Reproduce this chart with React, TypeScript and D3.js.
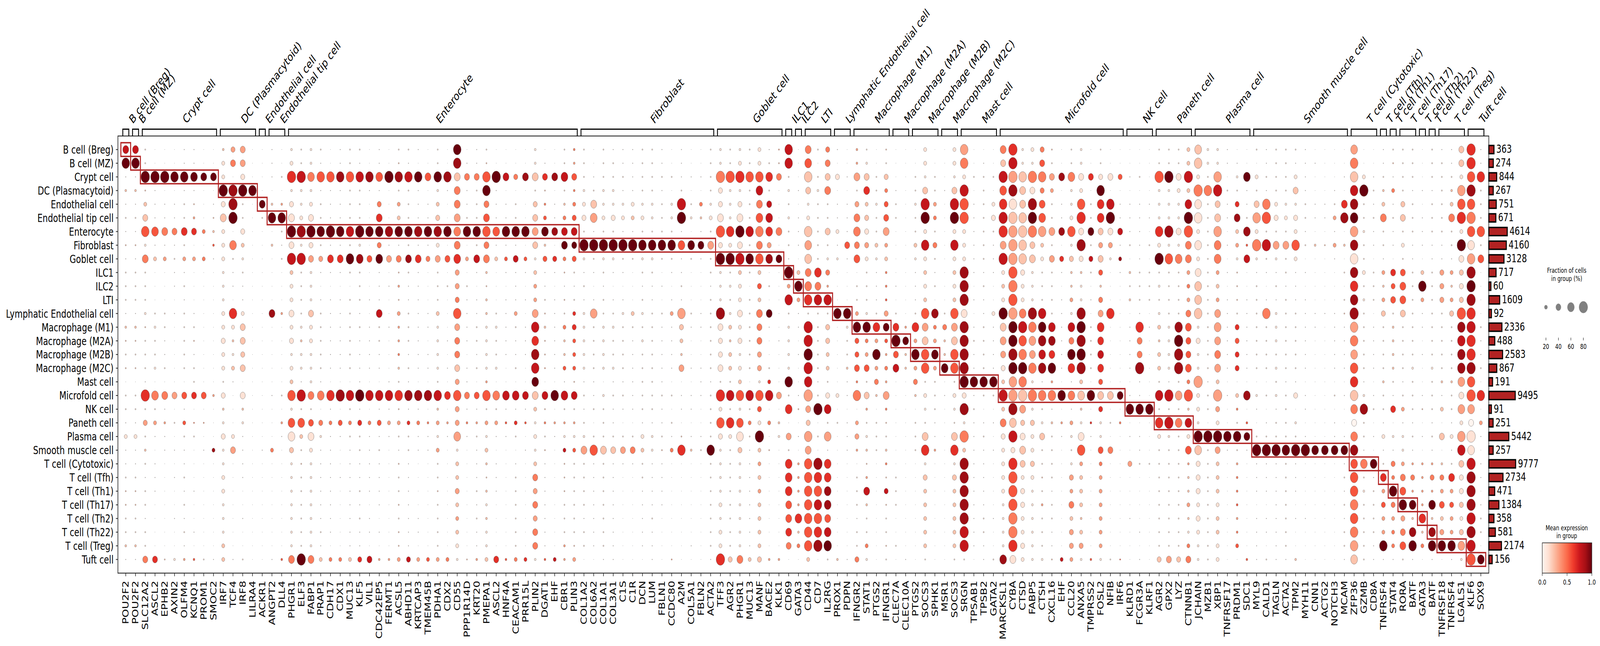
import React from "react";
import * as d3 from "d3";

// Rows, top to bottom, with their cell counts
const cellTypes = ["B cell (Breg)","B cell (MZ)","Crypt cell","DC (Plasmacytoid)","Endothelial cell","Endothelial tip cell","Enterocyte","Fibroblast","Goblet cell","ILC1","ILC2","LTI","Lymphatic Endothelial cell","Macrophage (M1)","Macrophage (M2A)","Macrophage (M2B)","Macrophage (M2C)","Mast cell","Microfold cell","NK cell","Paneth cell","Plasma cell","Smooth muscle cell","T cell (Cytotoxic)","T cell (Tfh)","T cell (Th1)","T cell (Th17)","T cell (Th2)","T cell (Th22)","T cell (Treg)","Tuft cell"];
const cellCounts = [363,274,844,267,751,671,4614,4160,3128,717,60,1609,92,2336,488,2583,867,191,9495,91,251,5442,257,9777,2734,471,1384,358,581,2174,156];
const groupSizes = [1,1,8,4,1,2,30,14,7,1,1,3,2,4,2,3,2,4,13,3,4,6,10,3,1,1,2,1,1,3,2];

const genes = ["POU2F2","POU2F2","SLC12A2","ASCL2","EPHB2","AXIN2","OLFM4","KCNQ1","PROM1","SMOC2","IRF7","TCF4","IRF8","LILRA4","ACKR1","ANGPT2","DLL4","PHGR1","ELF3","FABP1","PRAP1","CDH17","CDX1","MUC13","KLF5","VIL1","CDC42EP5","FERMT1","ACSL5","ABHD11","KRTCAP3","TMEM45B","PDHA1","CDX2","CD55","PPP1R14D","KRT20","PMEPA1","ASCL2","HNF4A","CEACAM1","PRR15L","PLIN2","DGAT1","EHF","CBR1","PLIN3","COL1A2","COL6A2","COL1A1","COL3A1","C1S","C1R","DCN","LUM","FBLN1","CCDC80","A2M","COL5A1","FBLN2","ACTA2","TFF3","AGR2","PHGR1","MUC13","MANF","BACE2","KLK1","CD69","GATA3","CD44","CD7","IL2RG","PROX1","PDPN","IFNGR2","STAT1","PTGS2","IFNGR1","CLEC7A","CLEC10A","PTGS2","SOCS3","SPHK1","MSR1","SOCS3","SRGN","TPSAB1","TPSB2","GATA2","MARCKSL1","CYBA","CTSD","FABP5","CTSH","CXCL16","EHF","CCL20","ANXA5","TMPRSS2","FOSL2","NFIB","IRF6","KLRD1","FCGR3A","KLRF1","AGR2","GPX2","LYZ","CTNNB1","JCHAIN","MZB1","XBP1","TNFRSF17","PRDM1","SDC1","MYL9","CALD1","TAGLN","ACTA2","TPM2","MYH11","CNN1","ACTG2","NOTCH3","MCAM","ZFP36","GZMB","CD8A","TNFRSF4","STAT4","RORA","BATF","GATA3","BATF","TNFRSF18","TNFRSF4","LGALS1","KLF6","SOX9"];

// Each gene: 31 cells, one per row; first character is a fraction level, second an expression level.
const fractionLevels = [0.5,2,5,10,20,30,40,50,60,70,80]; // percent of cells; "a" is the last one
const POU2F2 = "77 99 11 32 11,21 11 22 11 21,21 21 11 32 22,21 22 01 21 21,11 41 11 11 21,22 22 21 21 32,11";
const ASCL2 = "01 01 a9 11 11,11 85 11 42 01,00 01 21 31 21,21 31 01 84 21,43 11 01 11 11,11 01 01 01 01,66";
const PHGR1 = "31 41 a6 31 51,71 a9 61 a7 42,41 41 61 41 51,31 41 42 95 31,85 81 52 31 31,31 31 31 31 31,74";
const MUC13 = "21 21 95 21 21,21 97 21 99 21,00 21 21 21 21,21 21 01 97 21,44 21 11 11 11,11 11 11 11 11,42";
const EHF = "00 00 78 00 11,11 78 01 56 11,00 11 11 11 11,11 11 01 99 00,33 11 01 01 00,00 00 00 00 00,47";
const ACTA2 = "21 21 21 21 31,41 21 73 21 21,11 21 21 21 21,21 21 11 21 21,21 21 99 21 21,21 21 21 21 21,11";
const AGR2 = "21 21 a5 31 31,31 96 41 a9 21,31 21 31 42 32,42 42 21 97 21,96 41 21 21 21,21 21 21 21 21,52";
const GATA3 = "01 00 01 11 01,11 11 11 01 42,99 43 11 11 01,11 01 00 11 22,00 11 00 33 33,33 33 86 32 44,01";
const PTGS2 = "00 00 21 21 31,21 21 42 31 11,11 11 21 86 43,99 43 54 32 00,21 21 21 01 01,00 00 00 00 00,00";
const SOCS3 = "41 41 31 62 a7,a9 41 97 41 42,41 42 95 73 72,95 95 21 41 31,21 72 96 31 52,42 42 42 42 42,21";
const TNFRSF4 = "11 11 21 32 42,74 21 21 11 43,32 43 52 21 21,21 21 32 21 21,11 41 11 21 76,43 55 43 43 99,11";
const BATF = "21 21 21 11 21,21 21 11 11 21,21 21 21 21 21,21 31 21 21 21,11 21 11 33 54,33 89 32 88 99,11";

const markersBcell = [POU2F2, POU2F2];
const markersCrypt = [
  "21 21 a9 22 42,62 95 31 74 21,21 21 31 22 21,21 21 11 a6 21,53 21 32 21 11,21 21 11 21 21,64",
  ASCL2,
  "00 00 a9 01 11,11 74 11 43 01,00 01 21 21 11,11 21 01 74 11,33 11 11 01 01,01 01 01 00 01,22",
  "00 00 99 01 11,11 64 11 21 11,11 01 11 01 01,01 01 00 63 00,21 01 11 01 11,01 01 11 01 01,31",
  "11 11 99 11 21,21 76 21 43 11,21 11 21 21 21,21 21 01 65 11,45 21 11 11 21,11 21 11 21 11,33",
  "11 11 89 11 22,33 66 01 43 01,00 01 11 21 22,11 21 21 66 00,24 21 01 01 01,11 01 01 11 01,35",
  "01 00 79 01 01,01 44 01 44 01,00 01 01 01 01,01 01 01 65 00,23 01 11 00 00,00 00 01 00 00,21",
  "00 00 79 00 11,22 32 35 11 00,00 00 01 00 00,00 00 00 33 01,01 01 48 00 00,00 00 01 00 00,11",
];
const markersDC = [
  "32 41 41 a9 51,72 41 41 41 31,31 31 41 41 51,41 41 21 51 32,31 51 31 31 41,41 31 31 31 42,42",
  "53 64 01 a8 a8,a9 01 84 21 11,11 01 96 41 32,31 42 11 01 00,01 41 63 01 01,00 01 01 00 01,11",
  "63 63 51 a9 21,21 51 42 31 21,11 11 41 62 62,52 62 01 61 32,31 11 11 11 11,01 01 11 01 01,21",
  "01 01 01 99 00,00 00 00 00 00,00 00 00 01 01,01 00 00 00 00,00 00 00 00 00,00 00 00 00 00,00",
];
const markersEndothelial = [
  "00 00 00 00 79,21 00 01 00 00,00 00 00 00 00,00 00 00 00 00,00 01 11 00 00,00 00 00 00 00,00",
];
const markersEndothelialTip = [
  "11 11 11 01 32,99 01 32 01 01,01 01 78 01 01,00 01 01 11 00,00 01 44 01 01,01 00 01 01 01,11",
  "00 00 21 00 33,99 21 11 21 00,00 00 33 00 00,00 00 00 21 00,33 11 00 00 00,00 00 00 00 00,35",
];
const markersEnterocyte = [
  PHGR1,
  "21 21 a7 31 31,41 a8 31 a7 21,21 21 21 31 32,31 31 11 a7 21,85 42 21 22 21,21 21 21 21 21,a9",
  "31 31 84 31 41,61 a9 51 63 31,31 31 62 41 41,31 31 31 74 21,65 71 41 31 31,31 31 31 31 31,74",
  "21 11 95 11 21,21 99 21 53 11,00 11 21 21 21,21 21 11 84 00,54 31 11 11 11,11 11 11 21 11,42",
  "01 01 95 11 11,11 a9 11 76 11,00 11 11 11 11,11 11 01 96 11,44 11 11 11 11,11 11 11 11 01,44",
  "11 11 98 11 11,11 99 11 76 11,00 11 11 11 11,11 11 00 a8 00,55 11 01 01 11,01 01 01 01 01,44",
  MUC13,
  "21 11 97 21 21,21 a9 31 88 21,21 21 11 21 11,11 11 11 a9 11,56 21 21 11 11,21 11 21 11 11,56",
  "01 01 98 11 01,01 99 01 65 01,00 11 01 11 11,11 11 00 97 00,44 11 11 11 11,11 01 11 11 00,67",
  "11 11 85 11 54,76 99 54 89 11,11 11 77 21 21,11 11 00 97 11,55 11 21 11 11,11 11 01 11 01,33",
  "01 01 a9 00 01,01 98 11 63 00,11 01 01 11 01,01 01 11 97 11,43 11 01 01 01,01 01 00 00 01,33",
  "21 22 98 21 43,42 99 11 64 22,33 22 43 33 33,34 32 21 96 22,43 21 11 22 21,21 22 21 22 22,43",
  "21 11 97 21 21,21 99 21 78 21,11 11 21 21 21,11 21 11 98 11,46 21 21 11 11,11 11 11 11 11,57",
  "11 01 99 11 11,11 98 11 76 11,11 11 11 11 11,11 11 01 98 11,44 11 11 01 01,01 01 11 11 01,43",
  "00 00 75 01 11,11 99 11 54 01,00 01 11 11 01,11 11 00 98 00,34 11 11 00 00,01 00 01 00 00,45",
  "21 21 99 31 42,52 98 41 63 21,21 21 42 31 31,31 31 21 97 32,43 31 43 21 21,22 21 21 21 21,43",
  "01 00 98 11 01,01 99 01 65 00,21 01 01 01 11,01 11 00 76 00,33 11 01 00 00,00 00 00 00 00,44",
  "99 98 72 74 74,73 84 74 86 53,53 54 95 63 64,64 62 53 95 53,53 83 31 42 42,53 42 43 42 41,31",
  "00 11 64 11 11,21 99 00 43 01,21 11 11 11 11,01 11 11 64 11,34 11 00 01 01,00 00 00 00 00,22",
  "11 11 64 21 21,21 99 21 77 11,00 11 11 21 21,11 21 01 65 11,33 21 11 11 11,21 11 21 11 11,33",
  "21 22 95 99 64,75 95 64 74 32,22 32 32 31 31,31 31 33 95 21,43 31 42 32 22,32 31 32 31 31,42",
  ASCL2,
  "00 00 77 01 11,11 99 11 45 11,00 11 11 11 11,11 01 01 87 11,35 11 00 01 01,01 00 01 00 00,35",
  "01 01 54 01 21,21 99 11 67 11,11 11 43 21 11,11 21 01 87 11,46 21 00 11 21,21 21 21 21 21,44",
  "01 00 78 00 01,01 99 01 45 11,00 11 01 11 11,11 01 00 77 11,35 00 11 00 00,00 00 00 00 00,46",
  "31 31 72 21 52,62 73 62 31 42,43 43 73 97 86,98 97 89 72 42,31 41 31 42 64,53 64 53 64 64,31",
  "01 11 66 22 34,45 89 32 55 11,11 21 22 32 22,22 23 01 77 22,34 21 22 11 11,11 11 11 11 11,35",
  EHF,
  "21 21 87 21 32,44 77 79 44 22,11 22 21 44 32,32 45 11 87 21,33 31 47 22 22,22 21 21 21 33,33",
  "34 33 65 34 44,55 77 69 55 21,11 21 46 56 45,45 45 22 77 21,33 31 45 21 21,21 21 21 21 22,43",
];
const markersFibroblast = [
  "21 21 21 31 41,51 21 a9 31 11,21 11 31 31 31,31 31 11 21 11,21 31 73 21 21,21 21 11 21 21,01",
  "01 01 11 21 72,83 11 a9 21 11,00 11 83 21 21,21 21 11 11 21,01 21 95 11 11,11 11 11 11 11,00",
  "21 21 21 31 31,41 21 a9 31 21,11 21 21 31 31,31 31 01 31 21,21 21 72 21 21,21 21 21 21 21,11",
  "11 21 21 31 31,51 21 a9 31 11,00 11 21 31 21,21 31 11 21 11,11 21 62 11 11,11 11 11 11 11,11",
  "11 11 21 11 31,41 11 a9 21 11,00 11 31 21 21,21 21 11 21 11,01 21 63 11 01,01 01 01 01 01,00",
  "11 11 11 11 41,42 11 a9 21 01,00 01 42 21 11,11 11 11 11 11,01 21 64 11 01,01 01 01 01 01,00",
  "21 21 21 21 31,41 21 99 31 21,11 21 31 21 31,21 21 21 21 21,11 41 42 21 21,11 11 11 11 11,00",
  "21 21 21 21 31,31 21 99 31 21,11 11 21 21 21,21 21 21 21 21,11 31 31 11 11,11 11 21 11 11,11",
  "11 11 21 11 21,21 21 99 21 01,11 01 21 11 11,11 11 11 21 11,11 21 22 11 11,11 11 01 01 01,00",
  "01 00 21 01 31,31 21 99 21 11,00 11 43 11 11,11 11 00 21 00,21 11 44 01 01,00 01 01 01 00,23",
  "11 11 11 21 a7,a9 11 85 11 11,21 11 93 52 42,32 63 01 11 11,01 22 96 01 01,01 00 01 01 00,01",
  "00 00 11 00 21,31 00 89 21 01,00 00 21 11 00,00 11 00 11 11,01 11 32 00 00,00 00 00 00 11,00",
  "01 00 11 01 44,32 11 79 11 00,00 00 11 11 00,00 11 11 11 01,01 11 21 00 00,00 00 00 00 00,00",
  ACTA2,
];
const markersGoblet = [
  "31 31 a4 51 51,71 a5 51 a9 31,31 31 a8 61 51,51 61 21 a6 41,95 51 31 31 31,31 41 31 41 41,a6",
  AGR2,
  PHGR1,
  MUC13,
  "41 41 95 87 74,85 94 74 95 42,55 42 74 64 64,53 53 31 95 55,41 a9 42 43 42,43 42 42 42 42,52",
  "11 21 86 21 67,87 86 53 88 01,21 01 79 11 01,01 21 46 97 01,44 01 22 01 01,01 01 01 00 00,33",
  "23 22 64 01 01,01 74 01 79 00,00 01 01 01 11,01 01 00 63 00,32 31 01 01 00,00 00 00 00 00,33",
];
const markersILC1 = ["97 97 21 31 21,31 21 21 11 a9,43 97 21 31 31,31 31 99 21 86,01 63 21 86 86,86 75 75 76 64,01"];
const markersILC2 = [GATA3];
const markersLTI = [
  "74 85 92 62 31,41 92 83 82 74,84 96 21 a7 a7,a9 a7 97 a3 63,52 93 73 95 95,95 95 95 95 95,42",
  "21 01 21 31 21,21 21 21 21 86,74 97 21 21 21,21 21 11 21 a9,01 21 01 a8 96,95 97 95 96 a8,01",
  "54 64 62 74 21,21 62 21 31 54,33 97 21 52 52,42 42 21 51 87,21 83 11 86 86,88 88 75 87 99,21",
];
const markersLymphatic = [
  "11 01 51 01 11,11 41 11 31 00,00 00 99 01 00,00 00 01 41 00,21 00 01 00 00,00 00 00 00 00,32",
  "00 00 11 00 11,11 11 65 11 00,00 00 99 31 21,21 32 11 11 00,11 11 11 00 00,00 01 00 00 01,11",
];
const markersM1 = [
  "33 33 73 21 53,74 84 64 75 01,21 21 43 99 55,55 65 34 94 00,43 53 33 01 21,21 21 11 21 21,54",
  "21 31 62 76 42,52 51 53 41 21,21 21 31 99 44,43 65 21 62 33,21 31 32 22 33,77 32 21 21 44,31",
  PTGS2,
  "22 21 52 44 55,65 73 43 42 34,34 35 53 79 45,33 44 33 73 34,22 21 32 34 22,57 22 21 21 22,21",
];
const markersM2A = [
  "00 00 00 11 21,21 00 00 01 00,11 00 21 76 a9,65 77 00 01 00,00 00 00 00 21,21 21 00 00 21,00",
  "01 00 00 00 00,00 00 00 00 00,00 00 01 33 79,32 32 00 01 00,00 00 00 00 00,00 00 00 00 00,11",
];
const markersM2B = [
  PTGS2,
  SOCS3,
  "01 01 21 21 43,44 21 54 21 11,21 01 88 44 43,89 43 21 21 21,11 11 33 01 01,01 01 01 01 01,01",
];
const markersM2C = [
  "01 01 01 11 01,01 01 01 01 01,01 01 21 54 32,32 89 00 11 00,00 00 00 00 00,00 00 00 00 00,00",
  SOCS3,
];
const markersMast = [
  "93 94 41 a7 a5,a5 41 41 41 a8,a8 a8 71 a8 a8,a8 a8 a9 51 a8,31 a4 42 a8 a8,a8 a8 a8 a7 a7,21",
  "01 00 21 01 11,11 11 11 11 11,00 11 00 11 21,11 11 99 11 21,11 11 11 11 11,11 11 11 11 11,00",
  "01 11 21 21 21,21 21 21 21 11,21 11 11 21 21,21 21 99 21 00,11 21 11 11 11,11 11 21 21 11,11",
  "01 00 21 01 41,51 21 11 11 11,00 01 41 11 11,11 11 99 21 00,11 01 11 01 00,01 00 11 00 00,21",
];
const markersMicrofold = [
  "74 62 a7 85 96,a7 a6 73 a7 41,42 41 a9 72 73,63 51 42 a7 42,74 51 41 41 41,41 31 31 31 31,88",
  "a6 a7 a3 a8 91,a2 a3 a3 a3 a5,a4 a5 a3 a9 a9,a8 a9 93 a3 a8,82 a7 51 a6 a5,a5 a5 a4 a4 a6,71",
  "31 31 92 72 72,92 a2 92 92 51,41 41 84 a7 95,94 a9 94 a2 73,52 61 72 62 41,51 51 41 41 51,41",
  "41 31 a4 61 a8,a9 a4 62 72 31,31 31 a8 94 83,73 94 31 a4 31,52 41 41 52 41,31 31 31 31 31,31",
  "54 65 94 54 75,85 93 42 41 21,21 21 97 99 98,87 98 11 94 21,31 62 21 21 22,21 33 21 21 21,31",
  "22 21 63 43 21,21 73 21 63 21,21 21 21 87 88,76 99 33 94 11,32 21 21 21 21,11 21 21 11 11,22",
  EHF,
  "21 21 84 31 31,41 95 31 52 32,32 43 31 87 64,99 86 11 84 11,43 31 21 31 53,43 64 42 53 53,43",
  "31 31 61 41 95,a6 61 a8 51 32,31 31 a8 a9 a8,a9 a8 42 82 32,31 71 95 43 42,42 42 32 42 53,31",
  "01 01 66 01 21,21 79 21 57 21,00 11 01 21 21,21 21 01 99 00,36 11 01 01 01,01 01 01 01 01,35",
  "21 21 51 99 86,86 62 53 62 55,32 54 63 86 76,77 76 55 72 56,31 31 65 44 43,43 43 43 43 43,31",
  "00 00 61 00 97,a9 61 53 31 00,00 01 96 01 00,00 00 00 72 01,21 01 64 00 00,00 00 00 00 00,21",
  "01 01 55 01 11,11 67 11 48 11,00 01 00 01 01,01 01 00 79 00,34 01 00 01 00,00 00 01 00 00,25",
];
const markersNK = [
  "00 00 11 00 11,11 11 21 00 32,21 32 00 11 11,11 11 00 11 99,00 11 00 53 00,00 00 11 00 00,00",
  "00 00 21 00 11,11 11 11 11 21,21 21 11 96 64,64 a8 11 11 99,00 11 11 21 00,00 00 00 11 00,11",
  "00 00 00 00 11,11 01 21 00 21,21 21 00 11 00,00 00 00 00 99,00 00 00 21 00,00 00 00 00 00,00",
];
const markersPaneth = [
  AGR2,
  "21 21 a9 31 31,31 a8 31 95 21,21 21 21 31 31,31 31 11 a7 21,a7 31 21 21 21,21 21 21 21 21,63",
  "21 21 61 41 31,31 61 31 84 21,21 21 21 98 a9,a8 a8 21 83 21,84 21 21 21 21,21 21 21 21 21,52",
  "42 42 a7 42 87,a9 a5 74 74 43,44 43 64 75 65,65 75 44 a5 32,87 41 75 33 32,32 43 32 31 44,64",
];
const markersPlasma = [
  "82 92 41 a4 81,91 41 81 41 71,82 82 92 31 51,31 31 a3 41 41,31 a9 82 51 51,51 41 51 41 31,31",
  "31 31 21 94 21,21 21 21 21 21,21 21 21 21 21,21 21 11 21 21,01 a9 21 21 21,21 21 21 21 21,21",
  "31 31 93 a7 62,72 93 84 84 43,42 43 73 83 73,74 73 42 a3 53,41 a9 63 42 42,42 41 42 42 41,41",
  "11 11 01 21 11,11 01 11 00 11,00 11 11 11 11,11 11 00 11 00,00 99 11 01 01,01 01 01 01 00,00",
  "01 11 31 21 56,78 42 43 31 22,22 22 21 56 55,56 56 00 42 34,21 99 21 33 34,34 35 33 34 45,01",
  "01 01 89 11 11,21 88 35 77 00,00 11 11 11 11,11 11 00 88 00,35 79 11 00 00,00 01 00 01 00,35",
];
const markersSmooth = [
  "21 01 41 21 62,93 41 a4 31 11,21 21 21 21 21,21 21 00 31 11,00 21 a9 11 11,11 00 11 11 11,11",
  "11 11 21 11 94,a5 21 a7 21 11,00 11 94 21 21,21 21 00 21 00,11 21 a9 11 11,11 01 11 11 01,21",
  "21 21 21 21 41,51 21 73 31 11,21 11 31 31 31,21 31 21 31 11,21 21 a9 11 11,11 11 11 11 11,11",
  ACTA2,
  "21 11 41 62 31,51 41 95 41 11,11 11 21 21 21,21 21 11 51 00,31 21 a9 11 11,11 01 11 01 01,32",
  "11 11 11 11 21,21 11 21 01 11,00 11 11 11 11,11 11 01 11 11,00 11 a9 01 01,01 01 11 00 00,00",
  "00 11 01 00 11,11 01 32 01 00,00 00 11 11 01,01 01 01 01 00,00 01 89 00 00,00 00 00 00 00,00",
  "01 01 01 00 11,11 01 22 01 00,00 01 11 01 01,01 01 01 01 00,00 01 89 01 00,01 00 01 01 01,01",
  "00 00 01 11 21,43 11 43 11 00,00 00 11 11 11,11 11 00 21 00,11 11 89 00 00,00 00 00 00 00,00",
  "01 00 11 01 76,98 01 32 01 21,00 21 22 11 11,11 11 01 11 00,00 11 89 11 21,11 21 11 21 21,11",
];
const markersCytotoxic = [
  "83 94 92 97 98,99 93 98 91 98,96 98 a8 93 94,83 95 96 92 84,60 84 98 85 95,95 94 95 94 93,82",
  "01 01 41 a9 21,21 31 21 21 41,21 31 21 21 21,21 21 11 31 98,21 21 11 84 21,31 21 21 21 21,21",
  "01 01 11 21 11,21 11 11 01 21,21 21 01 11 11,11 11 01 11 21,01 11 01 89 11,21 21 21 21 11,11",
];
const markersTfh = [TNFRSF4];
const markersTh1 = ["21 22 11 44 11,21 11 11 01 66,55 65 21 32 32,32 32 21 11 66,01 31 11 54 44,99 54 43 44 44,11"];
const markersTh17 = [
  "21 21 21 21 52,62 21 41 21 65,75 75 62 21 21,21 21 11 21 43,11 31 31 43 64,75 99 53 64 75,21",
  BATF,
];
const markersTh2 = [GATA3];
const markersTh22 = [BATF];
const markersTreg = [
  "11 21 21 21 21,21 21 11 11 53,53 53 21 21 21,21 21 32 11 42,01 62 01 32 54,43 65 42 53 99,01",
  TNFRSF4,
  "62 62 41 93 95,a6 41 a9 61 52,51 52 a5 98 97,98 98 83 61 83,41 93 97 62 51,51 52 41 52 83,31",
];
const markersTuft = [
  "a6 a6 95 a8 95,a4 95 81 93 a8,a9 a8 a6 a7 a6,a6 a8 95 a5 83,60 a1 81 a7 a8,a8 a8 a7 a8 a7,a5",
  "11 11 96 21 21,21 95 21 75 01,00 01 00 21 11,11 21 00 96 00,43 11 01 11 11,01 11 21 21 01,89",
];

const allColumns = [
  ...markersBcell, ...markersCrypt, ...markersDC, ...markersEndothelial, ...markersEndothelialTip,
  ...markersEnterocyte, ...markersFibroblast, ...markersGoblet, ...markersILC1, ...markersILC2, ...markersLTI,
  ...markersLymphatic, ...markersM1, ...markersM2A, ...markersM2B, ...markersM2C, ...markersMast,
  ...markersMicrofold, ...markersNK, ...markersPaneth, ...markersPlasma, ...markersSmooth, ...markersCytotoxic,
  ...markersTfh, ...markersTh1, ...markersTh17, ...markersTh2, ...markersTh22, ...markersTreg, ...markersTuft,
];

const sizeLegendTicks = [20, 40, 60, 80];
const colorbarTicks = [0, 0.5, 1];
const redsStops = ["#fff5f0","#fee0d2","#fcbba1","#fc9272","#fb6a4a","#ef3b2c","#cb181d","#a50f15","#67000d"];

const FONT = "'DejaVu Sans'";
const firebrick = "#b22222";

type Cell = { gene: number; row: number; frac: number; expr: number };

function parseCells(): Cell[] {
  if (allColumns.length !== genes.length) throw new Error(`columns ${allColumns.length}`);
  const out: Cell[] = [];
  allColumns.forEach((col, gene) => {
    const tokens = col.split(/[ ,]/);
    if (tokens.length !== cellTypes.length) throw new Error(`gene ${gene} ${genes[gene]} has ${tokens.length} cells`);
    tokens.forEach((t, row) => {
      const lvl = parseInt(t[0], 16);
      out.push({ gene, row, frac: fractionLevels[lvl], expr: +t[1] / 9 });
    });
  });
  return out;
}

export default function App() {
  const cells = parseCells();
  const x = d3.scaleLinear().domain([0, genes.length - 1]).range([438.4, 5162.6]);
  const y = d3.scaleLinear().domain([0, cellTypes.length - 1]).range([382.7, 1431.6]);
  const diameter = d3.scalePow().exponent(0.75).domain([0, 80]).range([0, 30]);
  const color = d3.scaleLinear<string>()
    .domain(redsStops.map((_, i) => i / (redsStops.length - 1)))
    .range(redsStops);
  const barW = d3.scaleSqrt().domain([0, 9777]).range([0, 93.5]);

  const frame = { l: 411, t: 348, r: 5190.4, b: 1466.5 };
  const cbar = { l: 5376.7, r: 5549.5, t: 1389, b: 1466.5 };
  const cbarX = d3.scaleLinear().domain([0, 1]).range([cbar.l, cbar.r]);

  const starts = d3.cumsum([0, ...groupSizes]);
  const groups = groupSizes.map((n, i) => ({ name: cellTypes[i], first: starts[i], last: starts[i] + n - 1, row: i }));
  const sizeX = d3.scalePoint<number>().domain(sizeLegendTicks).range([5389.5, 5520]);

  return (
    <svg viewBox="0 0 5578 1653" preserveAspectRatio="none"
      style={{ position: "fixed", left: 0, top: 0, width: "100vw", height: "100vh", display: "block", background: "#fff" }} fontFamily={FONT}>
      <defs>
        <linearGradient id="redsGrad" x1="0" x2="1" y1="0" y2="0">
          {redsStops.map((c, i) => (
            <stop key={i} offset={i / (redsStops.length - 1)} stopColor={c} />
          ))}
        </linearGradient>
      </defs>

      {/* dots */}
      <g>
        {cells.map((d) => (
          <circle key={`${d.gene}-${d.row}`} cx={x(d.gene)} cy={y(d.row)} r={diameter(d.frac) / 2}
            fill={color(d.expr)} stroke="#5a5a5a" strokeWidth={0.7} />
        ))}
      </g>

      {/* highlight boxes */}
      <g fill="none" stroke={firebrick} strokeWidth={3.5}>
        {groups.map((g) => (
          <rect key={g.name} x={x(g.first) - 17} y={y(g.row) - 17.5} width={x(g.last) - x(g.first) + 34} height={35} />
        ))}
      </g>

      {/* frame */}
      <rect x={frame.l} y={frame.t} width={frame.r - frame.l} height={frame.b - frame.t} fill="none" stroke="#262626" strokeWidth={2.2} />

      {/* y axis */}
      <g fontSize={28.7} fill="#000">
        {cellTypes.map((t, i) => (
          <g key={t}>
            <line x1={frame.l - 7} x2={frame.l} y1={y(i)} y2={y(i)} stroke="#262626" strokeWidth={2} />
            <text x={frame.l - 15} y={y(i)} dy="0.36em" textAnchor="end">{t}</text>
          </g>
        ))}
      </g>

      {/* x axis */}
      <g fontSize={28} fill="#000">
        {genes.map((g, i) => (
          <g key={i}>
            <line x1={x(i)} x2={x(i)} y1={frame.b} y2={frame.b + 8} stroke="#262626" strokeWidth={2} />
            <text transform={`translate(${x(i)},1486) rotate(-90)`} dy="0.36em" textAnchor="end">{g}</text>
          </g>
        ))}
      </g>

      {/* group brackets and labels */}
      <g>
        {groups.map((g) => {
          const left = x(g.first) - 10.3;
          const right = x(g.last) + 10.7;
          const mid = (left + right) / 2;
          return (
            <g key={g.name}>
              <path d={`M${left},${frame.t} V330.5 H${right} V${frame.t}`} fill="none" stroke="#000" strokeWidth={3} />
              <text transform={`translate(${mid + 24.5},318) rotate(-45)`} fontSize={30.5} fill="#000">{g.name}</text>
            </g>
          );
        })}
      </g>

      {/* count bars */}
      <g>
        {cellCounts.map((n, i) => (
          <g key={i}>
            <rect x={frame.r} y={y(i) - 10.5} width={barW(n)} height={21} fill={firebrick} stroke="#000" strokeWidth={3.5} />
            <text x={frame.r + barW(n) + 8} y={y(i) - 1.5} dy="0.36em" fontSize={28.3} fill="#000">{n}</text>
          </g>
        ))}
      </g>

      {/* size legend */}
      <g fontSize={17.5} fill="#000" textAnchor="middle">
        <text x={5462} y={698}>Fraction of cells</text>
        <text x={5462} y={719}>in group (%)</text>
        {sizeLegendTicks.map((t) => (
          <g key={t}>
            <circle cx={sizeX(t)} cy={786} r={diameter(t) / 2} fill="#808080" stroke="#808080" strokeWidth={0.7} />
            <line x1={sizeX(t)} x2={sizeX(t)} y1={864} y2={871} stroke="#262626" strokeWidth={1.5} />
            <text x={sizeX(t)} y={893}>{t}</text>
          </g>
        ))}
      </g>

      {/* colour legend */}
      <g fontSize={17.5} fill="#000" textAnchor="middle">
        <text x={5462} y={1357}>Mean expression</text>
        <text x={5462} y={1377}>in group</text>
        <rect x={cbar.l} y={cbar.t} width={cbar.r - cbar.l} height={cbar.b - cbar.t} fill="url(#redsGrad)" stroke="#262626" strokeWidth={1.6} />
        {colorbarTicks.map((t) => (
          <g key={t}>
            <line x1={cbarX(t)} x2={cbarX(t)} y1={cbar.b} y2={cbar.b + 7} stroke="#262626" strokeWidth={1.5} />
            <text x={cbarX(t)} y={1496}>{t.toFixed(1)}</text>
          </g>
        ))}
      </g>
    </svg>
  );
}
